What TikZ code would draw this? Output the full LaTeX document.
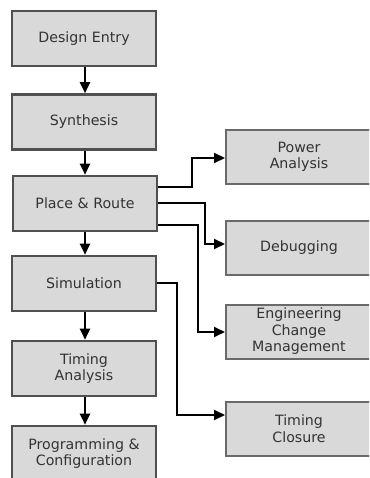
\documentclass[tikz,border=0pt]{standalone}
\usepackage{fontspec}
\setmainfont{DejaVu Sans}
\usetikzlibrary{arrows.meta}
\definecolor{boxfill}{HTML}{D9D9D9}
\definecolor{borderL}{HTML}{505050}
\definecolor{borderR}{HTML}{6A6A6A}
\definecolor{txt}{HTML}{333333}
\begin{document}
\begin{tikzpicture}[x=1pt,y=-1pt,
  lbox/.style={draw=borderL, line width=2.6pt, fill=boxfill, minimum width=144pt, minimum height=55pt, inner sep=0pt, align=center, text=txt, font=\fontsize{14.2}{16}\selectfont},
  rbox/.style={draw=borderR, line width=2pt, fill=boxfill, minimum width=146pt, minimum height=54pt, inner sep=0pt, align=center, text=txt, font=\fontsize{14.2}{16.5}\selectfont},
  arr/.style={draw=black, line width=2pt, -{Triangle[length=11pt,width=10pt]}}]
\useasboundingbox (0,0) rectangle (369,478);
\clip (0,0) rectangle (369,478);
\fill[white] (0,0) rectangle (369,478);
% left column
\node[lbox] (de)  at (84,38.5)  {Design Entry};
\node[lbox] (syn) at (84,122)   {Synthesis};
\node[lbox] (pr)  at (85,203.5) {Place \& Route};
\node[lbox] (sim) at (84,283.5) {Simulation};
\node[lbox] (ta)  at (84,368.5) {Timing\\Analysis};
\node[lbox] (pc)  at (84,453.5) {Programming \&\\Configuration};
% right column
\node[rbox] (pa)  at (299,157)   {Power\\Analysis};
\node[rbox] (dbg) at (299,248)   {Debugging};
\node[rbox] (ecm) at (299,331.5) {Engineering\\Change\\Management};
\node[rbox] (tc)  at (299,428.5) {Timing\\Closure};
% vertical flow
\draw[arr] (de.south -| 85,0) -- (syn.north -| 85,0);
\draw[arr] (syn.south -| 85,0) -- (pr.north -| 85,0);
\draw[arr] (pr.south -| 85,0) -- (sim.north -| 85,0);
\draw[arr] (sim.south -| 85,0) -- (ta.north -| 85,0);
\draw[arr] (ta.south -| 85,0) -- (pc.north -| 85,0);
% branches
\draw[arr] (pr.east |- 0,187) -- (192,187) |- (pa.west |- 0,158);
\draw[arr] (pr.east |- 0,203) -- (205,203) |- (dbg.west |- 0,244);
\draw[arr] (pr.east |- 0,225) -- (198,225) |- (ecm.west |- 0,332);
\draw[arr] (sim.east |- 0,283) -- (177,283) |- (tc.west |- 0,415);
\end{tikzpicture}
\end{document}
